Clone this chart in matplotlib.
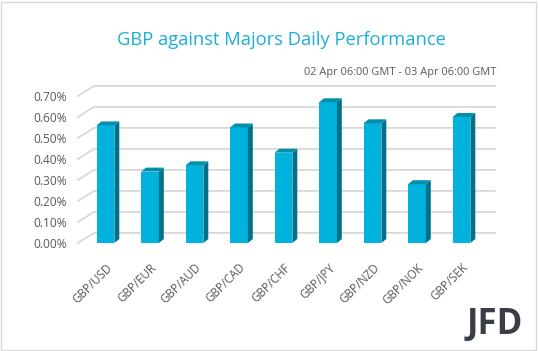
import matplotlib.pyplot as plt
from matplotlib.patches import Polygon, Rectangle

plt.rcParams['font.family'] = ['Open Sans', 'DejaVu Sans']

# data (percent)
pairs = ['GBP/USD', 'GBP/EUR', 'GBP/AUD', 'GBP/CAD', 'GBP/CHF',
         'GBP/JPY', 'GBP/NZD', 'GBP/NOK', 'GBP/SEK']
perf = [0.56, 0.34, 0.37, 0.55, 0.43, 0.67, 0.57, 0.28, 0.60]
yticks = [0.0, 0.1, 0.2, 0.3, 0.4, 0.5, 0.6, 0.7]

front = '#00b2dc'
side = '#00718a'
top = '#0090ad'
grid = '#d9d9d9'
txt = '#595959'

W, H = 538, 351
fig = plt.figure(figsize=(W / 100, H / 100), dpi=100)
# plot area in pixels: x from 83.25 to 483.75, y=0 at 243px, 0.7 at 96px
ax = fig.add_axes([83.25 / W, (H - 243) / H, 400.5 / W, 147 / H])
ax.set_xlim(-0.5, 8.5)
ax.set_ylim(0, 0.7)
for s in ax.spines.values():
    s.set_visible(False)

# back wall gridlines with a slanted floor edge
for v in yticks:
    ax.plot([-0.62, -0.26, 8.75], [v, v + 0.048, v + 0.048], color=grid,
            lw=1.3, clip_on=False, zorder=1)

w = 0.40
dx, dy = 0.11, 0.019
x = list(range(len(pairs)))
ax.bar(x, perf, width=w, color=front, zorder=3)
for xi, v in zip(x, perf):
    r = xi + w / 2
    l = xi - w / 2
    ax.add_patch(Polygon([(r, 0), (r + dx, dy), (r + dx, v + dy), (r, v)],
                         closed=True, color=side, zorder=3, lw=0))
    ax.add_patch(Polygon([(l, v), (r, v), (r + dx, v + dy), (l + dx, v + dy)],
                         closed=True, color=top, zorder=3, lw=0))

ax.set_yticks(yticks)
ax.set_yticklabels([f'{v:.2f}%' for v in yticks], color=txt, fontsize=8.6)
ax.set_xticks(x)
ax.set_xticklabels(pairs, rotation=45, ha='right', va='top',
                   rotation_mode='anchor', color=txt, fontsize=8.3)
ax.tick_params(axis='both', length=0)
ax.tick_params(axis='y', pad=12)
ax.tick_params(axis='x', pad=13)
ax.patch.set_visible(False)

fig.text(281 / W, 1 - 40 / H, 'GBP against Majors Daily Performance',
         ha='center', va='center', color='#1ab0d8', fontsize=13.2)
fig.text(496 / W, 1 - 73 / H, '02 Apr 06:00 GMT - 03 Apr 06:00 GMT',
         ha='right', va='center', color=txt, fontsize=7.9)

# logo
fig.text(495 / W, 1 - 325 / H, 'JFD', ha='center', va='center',
         color='#3a3f47', fontsize=25, fontweight='bold')

fig.patches.append(Rectangle((1 / W, 1 / H), (W - 3) / W, (H - 3) / H,
                             transform=fig.transFigure, fill=False,
                             ec=grid, lw=1))

fig.savefig('out.png', dpi=100)
